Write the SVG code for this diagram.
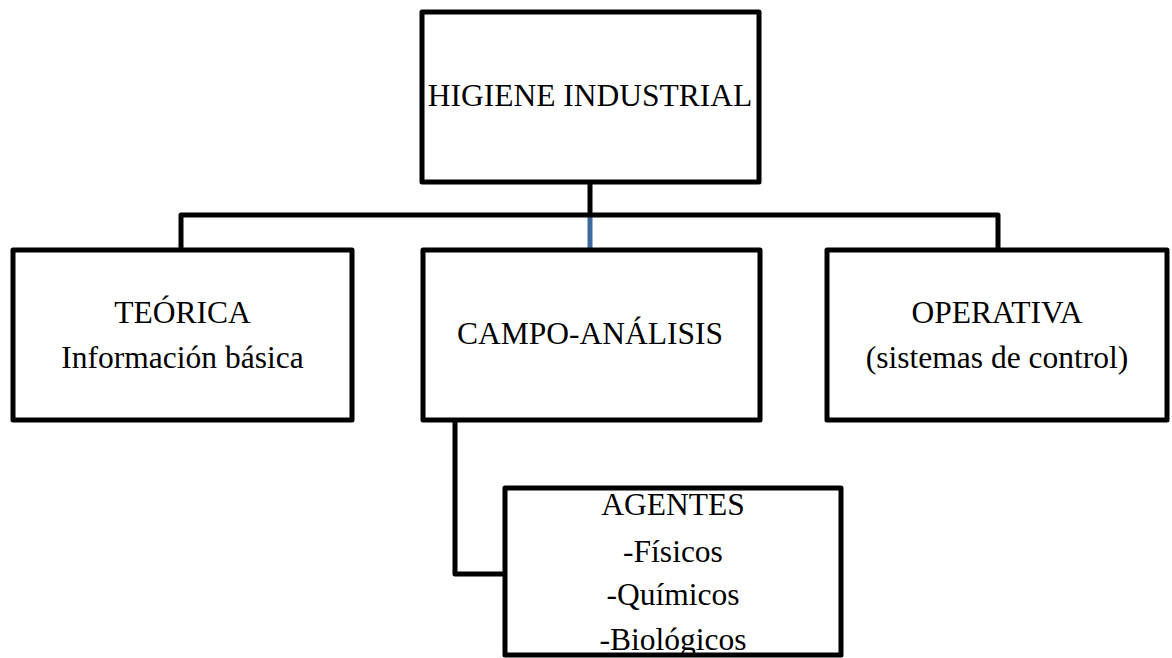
<svg xmlns="http://www.w3.org/2000/svg" width="1172" height="658" viewBox="0 0 1172 658">
<style>
.box{fill:#fff;stroke:#000;stroke-width:5;stroke-linejoin:round}
.line{fill:none;stroke:#000;stroke-width:5;stroke-linejoin:round}
.blue{fill:none;stroke:#3e6b9f;stroke-width:5}
text{font-family:"Liberation Serif","Times New Roman",serif;font-size:31.5px;fill:#000;text-anchor:middle}
</style>
<rect width="1172" height="658" fill="#fff"/>
<g id="connectors">
<polyline class="line" points="590,182 590,215"/>
<polyline class="blue" points="590,215 590,250"/>
<polyline class="line" points="181,250 181,215 998,215 998,250"/>
<polyline class="line" points="455,420 455,574 505,574"/>
</g>
<g id="higiene">
<rect class="box" x="422" y="12" width="337" height="170"/>
<text x="590" y="106">HIGIENE INDUSTRIAL</text>
</g>
<g id="teorica">
<rect class="box" x="13" y="250" width="339" height="170"/>
<text x="182.5" y="323">TEÓRICA</text>
<text x="182.5" y="368">Información básica</text>
</g>
<g id="campo">
<rect class="box" x="423" y="250" width="337" height="170"/>
<text x="590" y="344">CAMPO-ANÁLISIS</text>
</g>
<g id="operativa">
<rect class="box" x="827" y="250" width="340" height="170"/>
<text x="997" y="323">OPERATIVA</text>
<text x="997" y="368">(sistemas de control)</text>
</g>
<g id="agentes">
<rect class="box" x="505" y="488" width="336" height="167"/>
<text x="673" y="515">AGENTES</text>
<text x="673" y="562">-Físicos</text>
<text x="673" y="605">-Químicos</text>
<text x="673" y="650">-Biológicos</text>
</g>
</svg>
